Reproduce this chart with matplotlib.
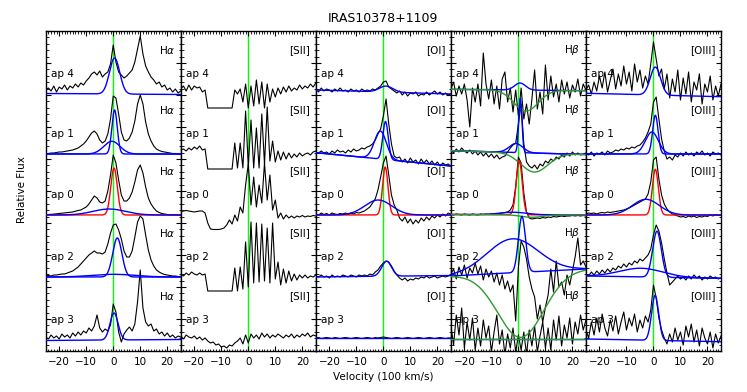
import numpy as np
import matplotlib.pyplot as plt
from matplotlib.ticker import MultipleLocator

# velocity grid in units of 100 km/s
vel = np.arange(-25, 26)

apertures = ['ap 4', 'ap 1', 'ap 0', 'ap 2', 'ap 3']
line_names = ['H$\\alpha$', '[SII]', '[OI]', 'H$\\beta$', '[OIII]']

# ---- observed spectra (relative flux above each row's zero level), v = -25..25
ha_ap4 = [4, 6, 3, 8, 2, 7, 5, 9, 4, 8,
          6, 10, 7, 11, 9, 13, 16, 20, 22, 19,
          23, 17, 20, 22, 30, 49, 32, 22, 19, 16,
          18, 21, 24, 32, 45, 58, 40, 28, 22, 17,
          14, 10, 12, 7, 9, 4, 6, 2, 5, 1, 3]
ha_ap1 = [0, 0.5, 1, 1, 1.5, 2, 2, 2.5, 3, 3.5,
          4, 5, 6, 8, 10, 13, 17, 21, 23, 20,
          14, 11, 13, 20, 35, 58, 56, 40, 22, 14,
          13, 16, 22, 33, 50, 59, 50, 32, 20, 13,
          8, 5, 3.5, 2.5, 2, 1.5, 1, 0.5, 0.5, 0, 0]
ha_ap0 = [0.3, 0.5, 0.7, 0.9, 1.2, 1.5, 1.8, 2.1, 2.4, 2.7,
          3, 3.8, 4.5, 5, 6.5, 8, 11, 15, 19, 17,
          13, 12, 14, 24, 40, 60, 52, 35, 20, 14,
          14, 17, 23, 33, 45, 50, 42, 28, 17, 11,
          7, 4, 2.5, 1.5, 1, 0.5, 0.3, 0.2, 0.1, 0, 0]
ha_ap2 = [1, 1.5, 1, 2, 2, 2.5, 3, 3, 4, 5,
          6, 8, 10, 13, 16, 19, 22, 24, 26, 24,
          24, 23, 25, 33, 44, 52, 53, 47, 38, 26,
          20, 20, 26, 40, 55, 61, 58, 42, 27, 17,
          11, 7, 5, 3.5, 2.5, 2, 1.5, 1, 1, 0.5, 0.5]
ha_ap3 = [3, 1, 5, 2, 4, 1, 6, 3, 5, 2,
          7, 4, 8, 5, 9, 7, 12, 9, 14, 25,
          12, 8, 11, 9, 15, 36, 28, 8, -2, 6,
          10, 13, 9, 16, 38, 70, 32, 18, 14, 16,
          9, 11, 6, 8, 4, 7, 3, 5, 2, 4, 3]

sii_ap4 = [5, 8, 3, 9, 4, 8, 6, 7, 2, 4,
           -14, -14, -14, -14, -14, -14, -14, -14, -14, -14,
           4, 0, 5, -8, 10, -14, 8, -12, 14, -10,
           12, -14, 10, -8, 5, -3, 6, 0, 7, 2,
           8, 3, 6, 4, 9, 5, 8, 6, 10, 7, 11]
sii_ap1 = [4, 5, 3, 6, 4, 7, 5, 8, 4, 5,
           -15, -15, -15, -15, -15, -15, -15, -15, -15, -15,
           11, -14, 11, -14, 43, -12, 34, -14, 26, -14,
           40, -10, 47, -7, 13, -8, 3, -6, 2, -5,
           1, -4, 0, -3, 1, -2, 0, 1, -1, 2, 3]
sii_ap0 = [3.5, 4, 4.5, 4, 3.5, 3, 3.5, 4, 4, 2,
           -8, -14, -14.5, -14.5, -14.5, -14, -13, -10, -5, -9,
           0, -6, 8, 2, 30, 51, 10, 38, 8, 30,
           12, 52, 15, 40, 5, 15, -3, 2, -4, 0,
           -3, -1, -3, -1, -2, -0.5, -2, -1, -1.5, -0.5, -1]
sii_ap2 = [3, 1, 4, 2, 5, 3, 2, 4, 2, 3,
           -14, -14, -14, -14, -14, -14, -14, -14, -14, -14,
           9, -14, 10, -12, 35, -10, 55, -6, 54, -5,
           53, -4, 49, -6, 54, -2, 15, -8, 8, -6,
           6, -4, 3, -3, 2, -1, 2, -1, 1, 0, 2]
sii_ap3 = [4, 1, 5, 3, 2, 4, 1, 3, 0, 2,
           -1, -3, -2, -5, -4, -7, -6, -8, -5, -6,
           -3, -1, 2, -4, 5, -3, 6, 2, 5, 1,
           7, 3, 6, 2, 5, 3, 6, 4, 2, 5,
           3, 6, 2, 5, 3, 6, 4, 7, 3, 5, 4]

oi_ap4 = [5, 2, 6, 3, 5, 4, 2, 5, 3, 6,
          3, 4, 2, 5, 3, 4, 2, 5, 3, 4,
          3, 5, 4, 6, 8, 12, 13, 7, 5, 3,
          1, 3, -1, 2, -2, 1, 0, 2, -2, 0,
          -1, 2, -1, 1, 3, 0, 2, -1, 1, -1, 0]
oi_ap1 = [2, 1, 3, 1, 2, 0, 3, 1, 4, 2,
          3, 1, 4, 2, 5, 3, 4, 6, 5, 7,
          8, 10, 14, 20, 25, 38, 55, 30, 10, -2,
          -4, -3, -8, -5, -9, -4, -8, -6, -10, -5,
          -9, -6, -10, -7, -11, -8, -12, -9, -11, -10, -12]
oi_ap0 = [1, 0, 2, 0.5, 1.5, 0, 2, 1, 0.5, 1.5,
          1, 2, 0.5, 2, 1, 2.5, 2, 3, 4, 6,
          8, 12, 16, 25, 38, 52, 59, 40, 20, 10,
          5, -3, -6, -2, -8, -4, -9, -5, -8, -3,
          -6, -2, -5, -1, -3, 0, -2, 1, -1, 2, 1]
oi_ap2 = [1, 0, 2, 0, 1, -1, 2, 0, 1, 0,
          2, 1, 0, 2, 1, 0, 2, 1, 2, 1,
          3, 2, 5, 7, 11, 14, 16, 15, 11, 6,
          2, -1, -3, -1, -4, -2, -3, -1, -2, 0,
          -1, 1, -1, 0, 1, -1, 0, 1, 0, 1, 2]
oi_ap3 = [2, 2.5, 1.5, 2, 2.5, 2, 1.5, 2.5, 2, 1.5,
          2, 2.5, 2, 1.5, 2, 2.5, 2, 1.5, 2, 2.5,
          2, 1.5, 2.5, 2, 2.5, 3, 2.5, 2, 1.5, 2,
          2.5, 2, 1.5, 2, 2.5, 2, 1.5, 2, 2.5, 2,
          1.5, 2, 2.5, 2, 1.5, 2, 2.5, 2, 1.5, 2, 2]

hb_ap4 = [5, 12, -2, 8, 0, 10, -6, -33, 6, -8,
          10, -12, 41, 10, -5, 14, -10, 8, -15, 15,
          22, -8, 6, -18, 4, -22, 6, -25, -10, -30,
          -5, 24, -15, 2, -20, 29, -6, 18, -3, 10,
          -8, 14, 0, 12, -4, 9, 2, 15, -2, 10, 4]
hb_ap1 = [4, 1, 5, 2, 6, 3, 1, 4, 0, 3,
          -1, 2, -2, 1, -3, 0, -4, -1, -5, -3,
          -2, 2, 6, 9, 11, 30, 50, 10, -8, -12,
          -14, -11, -15, -10, -12, -7, -9, -5, -7, -3,
          -5, -1, -3, 1, -2, 2, -1, 1, -1, 0, 1]
hb_ap0 = [0.5, 0, 1, 0.5, 0, 1, 0.5, 0, 1, 0.5,
          0, 1, 0.5, 1, 0.5, 1, 1, 1, 1.5, 2,
          2.5, 3, 5, 10, 28, 58, 52, 22, 3, -3,
          -4, -3.5, -3, -3.5, -2.5, -3, -2, -2.5, -1.5, -2,
          -1.5, -1, -1.5, -1, -1, -0.5, -1, -0.5, -1, -0.5, -1]
hb_ap2 = [3, 8, -2, 10, 2, 12, -1, 9, 4, 14,
          3, 11, -3, 8, 0, 6, -5, 4, -8, 2,
          -12, -4, -15, -8, -44, 10, 36, 30, 18, 0,
          -12, -20, -42, -28, -45, -30, -18, 8, -15, 16,
          -10, -5, -18, 2, -8, 6, 20, 39, 12, 16, 10]
hb_ap3 = [15, -5, 25, 5, 32, -8, 18, 0, 22, -10,
          12, -6, 20, 2, 14, -12, 8, 25, -4, 10,
          -15, 6, -8, 12, -12, 5, -10, 8, -14, 10,
          -6, 14, -12, 4, 18, -8, 12, -10, 20, 0,
          24, -6, 15, 2, 22, -4, 18, 6, 25, 10, 20]

o3_ap4 = [4, 9, 0, 12, 3, 18, 6, 22, 2, 14,
          25, 5, 20, 8, 28, 10, 22, 3, 30, 12,
          24, 6, 18, 10, 30, 52, 35, 18, 25, 5,
          20, -4, 15, 2, 24, -6, 16, 0, 22, -8,
          12, 4, 20, -10, 10, 2, 18, -6, 8, -2, 10]
o3_ap1 = [1, -1, 2, -2, 1, 0, 2, -1, 3, 1,
          2, 4, 3, 5, 4, 6, 5, 7, 6, 8,
          9, 12, 16, 22, 30, 52, 57, 35, 15, 3,
          -5, -3, -6, -1, -3, 1, -2, 2, -1, 1,
          -2, 2, 0, 3, -1, 1, -2, 2, 0, 1, -1]
o3_ap0 = [1, 2, 1.5, 2, 1, 2, 2.5, 2, 3, 2.5,
          3, 3.5, 4, 4.5, 5, 6, 7, 8.5, 10, 11.5,
          13, 14.5, 16, 21, 33, 55, 58, 36, 20, 11,
          6, 3, 1, 0, -1, -2, -1.5, -2.5, -1, -2,
          -1, -2.5, -1.5, -2, -1, -1.5, 0, -1, 0.5, -0.5, 0]
o3_ap2 = [3, 1, 5, 2, 6, 3, 7, 4, 8, 5,
          9, 7, 11, 9, 13, 10, 14, 12, 16, 14,
          18, 16, 19, 22, 28, 42, 52, 46, 34, 18,
          4, -8, -5, -2, 1, -2, 0, -3, 1, -2,
          2, -1, 1, -3, 0, -2, 1, -1, 0, -2, -1]
o3_ap3 = [10, 2, 18, 5, 22, 8, 26, 12, 4, 20,
          9, 24, 6, 18, 28, 10, 22, 14, 26, 8,
          20, 12, 24, 18, 30, 55, 42, 22, 10, 2,
          -4, 6, -2, 12, 0, 8, -5, 14, 3, 16,
          -2, 10, -6, 12, 2, -4, 8, -8, 6, -3, 4]

# ---- gaussian fit results: continuum (left, right) and (amplitude, centre, sigma)
# first component = narrow, second = broad
ha_cont = [(0.5, -0.5), (0, 0), (0, 0), (0, 0), (-0.5, 0.5)]
ha_comps = [[(36, 0.5, 1.9)],
            [(44, 0.5, 1.0), (12.7, -0.5, 3.0)],
            [(47, 0.3, 1.2), (6, -1.5, 6.0)],
            [(39, 1.5, 1.7), (2.7, 0.0, 8.0)],
            [(27, 0.3, 1.5)]]
oi_cont = [(4, 0), (1.3, -12), (0, 0), (0, 1.5), (2, 2)]
oi_comps = [[(6, 1.0, 2.5)],
            [(38, 0.8, 1.0), (28, -1.1, 2.2)],
            [(48, 0.7, 1.0), (15, -1.9, 5.0)],
            [(15, 1.2, 1.8)],
            []]
hb_cont = [(4.7, 3.3), (3.3, -0.5), (0.5, 0), (1, 8), (1.5, 1.5)]
hb_comps = [[(7, 0.6, 2.0)],
            [(54, 0.7, 0.6), (9, -0.9, 2.5)],
            [(54, 0.3, 1.1), (2.5, -2.0, 5.0)],
            [(56, 1.3, 1.3), (34, -2.2, 9.5)],
            []]
# stellar absorption under H-beta (depth, centre, sigma)
hb_abs = [(21, 2.8, 4.5), (19, 5.9, 5.0), (2.5, 5.0, 4.0), (65, 0.9, 8.5), (0, 0.0, 1.0)]
o3_cont = [(0.7, -2.7), (0, 0), (0, 0), (1, -1.3), (1, -1.7)]
o3_comps = [[(28, 0.7, 1.9)],
            [(38.7, 0.7, 1.0), (22, -0.6, 2.4)],
            [(45.7, 0.7, 1.1), (15.7, -2.8, 5.0)],
            [(46, 1.3, 1.6), (8.7, -4.6, 8.0)],
            [(45, 0.6, 1.3)]]

spectra = [[ha_ap4, ha_ap1, ha_ap0, ha_ap2, ha_ap3],
           [sii_ap4, sii_ap1, sii_ap0, sii_ap2, sii_ap3],
           [oi_ap4, oi_ap1, oi_ap0, oi_ap2, oi_ap3],
           [hb_ap4, hb_ap1, hb_ap0, hb_ap2, hb_ap3],
           [o3_ap4, o3_ap1, o3_ap0, o3_ap2, o3_ap3]]
conts = [ha_cont, None, oi_cont, hb_cont, o3_cont]
comps = [ha_comps, None, oi_comps, hb_comps, o3_comps]

# vertical offset of each aperture row inside a column
row_offset = [257, 197, 136, 74, 11]

fine = np.linspace(-25, 25, 501)


def gauss(x, amp, cen, sig):
    return amp * np.exp(-0.5 * ((x - cen) / sig) ** 2)


fig = plt.figure(figsize=(7.47, 3.92), dpi=100)
W, H = 747.0, 392.0
col_w = 135.06

for c in range(5):
    ax = fig.add_axes([(45.7 + c * col_w) / W, 41 / H, col_w / W, 320 / H])
    ax.set_xlim(-25, 25)
    ax.set_ylim(0, 320)
    ax.axvline(0, color='#00ff00', lw=1.0, zorder=1)

    for r in range(5):
        off = row_offset[r]
        ax.plot(vel, np.array(spectra[c][r]) + off, color='black', lw=0.8, zorder=2)

        if conts[c] is not None:
            left, right = conts[c][r]
            base = left + (right - left) * (fine + 25) / 50.0
            cl = comps[c][r]
            if len(cl) == 0:
                ax.plot(fine, base + off, color='blue', lw=1.0, zorder=3)
            for k, (amp, cen, sig) in enumerate(cl):
                col = 'red' if (r == 2 and k == 0) else 'blue'
                ax.plot(fine, base + gauss(fine, amp, cen, sig) + off,
                        color=col, lw=1.0, zorder=3)
            if c == 3:
                d, cen, sig = hb_abs[r]
                ax.plot(fine, base - gauss(fine, d, cen, sig) + off,
                        color='#2e9a2e', lw=1.0, zorder=3)

        ax.text(-23.2, off + 20, apertures[r], fontsize=7.5, ha='left', va='center', zorder=4)
        ax.text(23.0, off + 44, line_names[c], fontsize=7.5, ha='right', va='center', zorder=4)

    ax.xaxis.set_major_locator(MultipleLocator(10))
    ax.xaxis.set_minor_locator(MultipleLocator(1))
    ax.yaxis.set_major_locator(MultipleLocator(32))
    ax.yaxis.set_minor_locator(MultipleLocator(6.4))
    ax.tick_params(which='both', direction='in', top=True, right=True, labelsize=7.5)
    ax.tick_params(which='major', length=3.5, width=0.8, pad=4)
    ax.tick_params(which='minor', length=1.8, width=0.6)
    ax.set_yticklabels([])
    for s in ax.spines.values():
        s.set_linewidth(1.0)

fig.text(383 / W, 1 - 19 / H, 'IRAS10378+1109', ha='center', va='center', fontsize=9)
fig.text(22 / W, 1 - 190 / H, 'Relative Flux', rotation=90, ha='center', va='center', fontsize=7.5)
fig.text(383 / W, 1 - 377 / H, 'Velocity (100 km/s)', ha='center', va='center', fontsize=7.5)

fig.savefig('out.png', dpi=100)
